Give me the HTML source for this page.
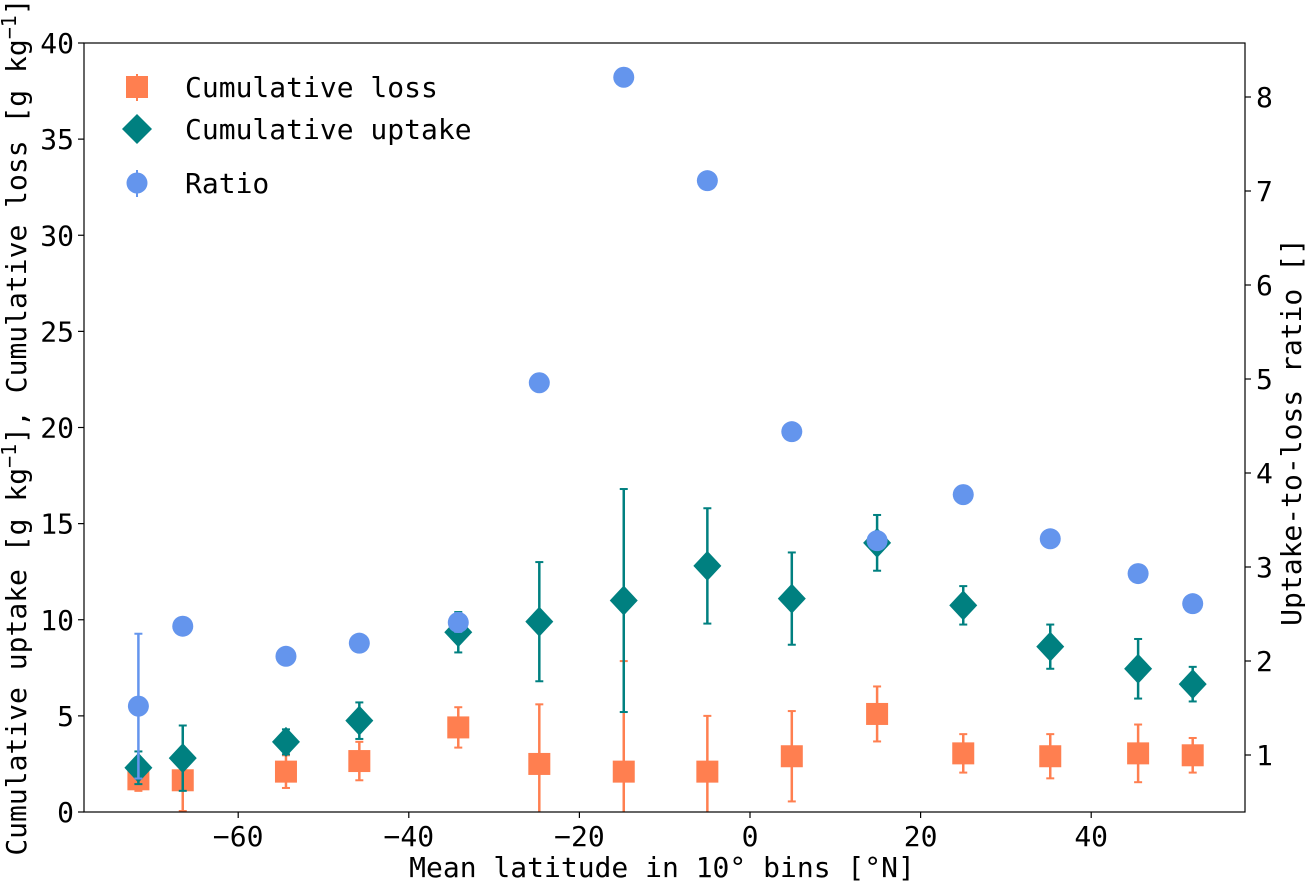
<!DOCTYPE html>
<html><head><meta charset="utf-8"><style>
html,body{margin:0;padding:0;background:#fff;}
svg{display:block;font-family:"DejaVu Sans Mono","Liberation Mono",monospace;}
</style></head><body>
<svg id="chart" width="1305" height="881" xmlns="http://www.w3.org/2000/svg"></svg>
<script>
const latitudes=[-71.7,-66.5,-54.4,-45.8,-34.2,-24.7,-14.8,-5.0,4.9,14.9,25.0,35.2,45.5,51.9];
const lossValues=[1.7,1.65,2.1,2.65,4.4,2.5,2.1,2.1,2.9,5.1,3.05,2.9,3.05,2.95];
const lossErrors=[0.6,1.6,0.85,1.0,1.05,3.1,5.75,2.9,2.35,1.43,1.0,1.15,1.5,0.9];
const uptakeValues=[2.3,2.8,3.65,4.75,9.35,9.9,11.0,12.8,11.1,14.0,10.75,8.6,7.45,6.65];
const uptakeErrors=[0.85,1.7,0.65,0.95,1.05,3.1,5.8,3.0,2.4,1.45,1.0,1.15,1.55,0.9];
const ratioValues=[1.52,2.37,2.05,2.19,2.41,4.96,8.21,7.11,4.44,3.28,3.77,3.30,2.93,2.61];
const ratioErrors=[0.77,0,0,0,0.1,0,0,0,0,0,0,0,0,0];
const xTicks=[-60,-40,-20,0,20,40];
const yLeftTicks=[0,5,10,15,20,25,30,35,40];
const yRightTicks=[1,2,3,4,5,6,7,8];

const L=84,R=1245,T=43,B=812;
const xS=v=>750+v*8.53;
const yL=v=>B-v*19.225;
const yR=v=>755-(v-1)*94;
const svg=document.getElementById('chart');
const NS='http://www.w3.org/2000/svg';
function mk(tag,attrs,parent){const e=document.createElementNS(NS,tag);for(const k in attrs)e.setAttribute(k,attrs[k]);(parent||svg).appendChild(e);return e;}

const clip=mk('clipPath',{id:'pc'});mk('rect',{x:L,y:T,width:R-L,height:B-T},clip);

xTicks.forEach(t=>{const x=xS(t);
 const tk=mk('line',{x1:x,x2:x,y1:B,y2:B+6,stroke:'#000','stroke-width':1.2});
 
 
 const tx=mk('text',{x:x,y:B+34,'text-anchor':'middle','font-size':28});tx.textContent=(t<0?'\u2212'+(-t):t);
 
 
});
yLeftTicks.forEach(t=>{const y=yL(t);
 const tk=mk('line',{x1:L-6,x2:L,y1:y,y2:y,stroke:'#000','stroke-width':1.2});
 
 
 const tx=mk('text',{x:L-10,y:y+10,'text-anchor':'end','font-size':28});tx.textContent=t;
 
 
});
yRightTicks.forEach(t=>{const y=yR(t);
 const tk=mk('line',{x1:R,x2:R+6,y1:y,y2:y,stroke:'#000','stroke-width':1.2});
 
 
 const tx=mk('text',{x:R+11,y:y+10,'text-anchor':'start','font-size':28});tx.textContent=t;
 
 
});

const g=mk('g',{'clip-path':'url(#pc)'});
function errbar(x,y1,y2,col){
 const e=mk('g',{},g);
 mk('line',{x1:x,x2:x,y1:y1,y2:y2,stroke:col,'stroke-width':2.5},e);
 mk('line',{x1:x-4,x2:x+4,y1:y1,y2:y1,stroke:col,'stroke-width':2},e);
 mk('line',{x1:x-4,x2:x+4,y1:y2,y2:y2,stroke:col,'stroke-width':2},e);
 return e;
}
latitudes.forEach((lat,i)=>{const x=xS(lat),y=yL(lossValues[i]);
 const e=errbar(x,yL(lossValues[i]+lossErrors[i]),yL(lossValues[i]-lossErrors[i]),'#FF7F50');
 
 
 const m=mk('rect',{x:x-11,y:y-11,width:22,height:22,fill:'#FF7F50'},g);
 
 
});
latitudes.forEach((lat,i)=>{const x=xS(lat),y=yL(uptakeValues[i]);
 const e=errbar(x,yL(uptakeValues[i]+uptakeErrors[i]),yL(uptakeValues[i]-uptakeErrors[i]),'#008080');
 
 
 const m=mk('polygon',{points:`${x},${y-15} ${x+14},${y} ${x},${y+15} ${x-14},${y}`,fill:'#008080'},g);
 
 
});
latitudes.forEach((lat,i)=>{const x=xS(lat),y=yR(ratioValues[i]);
 if(ratioErrors[i]>0){const e=errbar(x,yR(ratioValues[i]+ratioErrors[i]),yR(ratioValues[i]-ratioErrors[i]),'#6495ED');
 
 }
 const m=mk('circle',{cx:x,cy:y,r:10.5,fill:'#6495ED'},g);
 
 
});

const frame=mk('rect',{x:L,y:T,width:R-L,height:B-T,fill:'none',stroke:'#000','stroke-width':1.2});



const lg=mk('g',{});


function le(name,y,label,draw){const e=mk('g',{},lg);draw(e);const t=mk('text',{x:185,y:y+10,'font-size':28},e);t.textContent=label;}
le('legend-entry-loss',87,'Cumulative loss',e=>{mk('line',{x1:137,x2:137,y1:74,y2:101,stroke:'#FF7F50','stroke-width':2},e);mk('rect',{x:126,y:76,width:22,height:22,fill:'#FF7F50'},e);});
le('legend-entry-uptake',129,'Cumulative uptake',e=>{mk('polygon',{points:'137,114 152,129 137,144 122,129',fill:'#008080'},e);});
le('legend-entry-ratio',183,'Ratio',e=>{mk('line',{x1:137,x2:137,y1:170,y2:197,stroke:'#6495ED','stroke-width':2},e);mk('circle',{cx:137,cy:183,r:10.5,fill:'#6495ED'},e);});

const xt=mk('text',{x:662,y:877,'text-anchor':'middle','font-size':28});xt.textContent='Mean latitude in 10\u00b0 bins [\u00b0N]';


const yt=mk('text',{x:0,y:0,'text-anchor':'middle','font-size':28,transform:'translate(26,427) rotate(-90)'});
yt.innerHTML='Cumulative uptake [g kg<tspan dy="-10" font-size="20">\u22121</tspan><tspan dy="10">], Cumulative loss [g kg</tspan><tspan dy="-10" font-size="20">\u22121</tspan><tspan dy="10">]</tspan>';


const yt2=mk('text',{x:0,y:0,'text-anchor':'middle','font-size':28,transform:'translate(1301,432) rotate(-90)'});yt2.textContent='Uptake-to-loss ratio []';


</script>
</body></html>
